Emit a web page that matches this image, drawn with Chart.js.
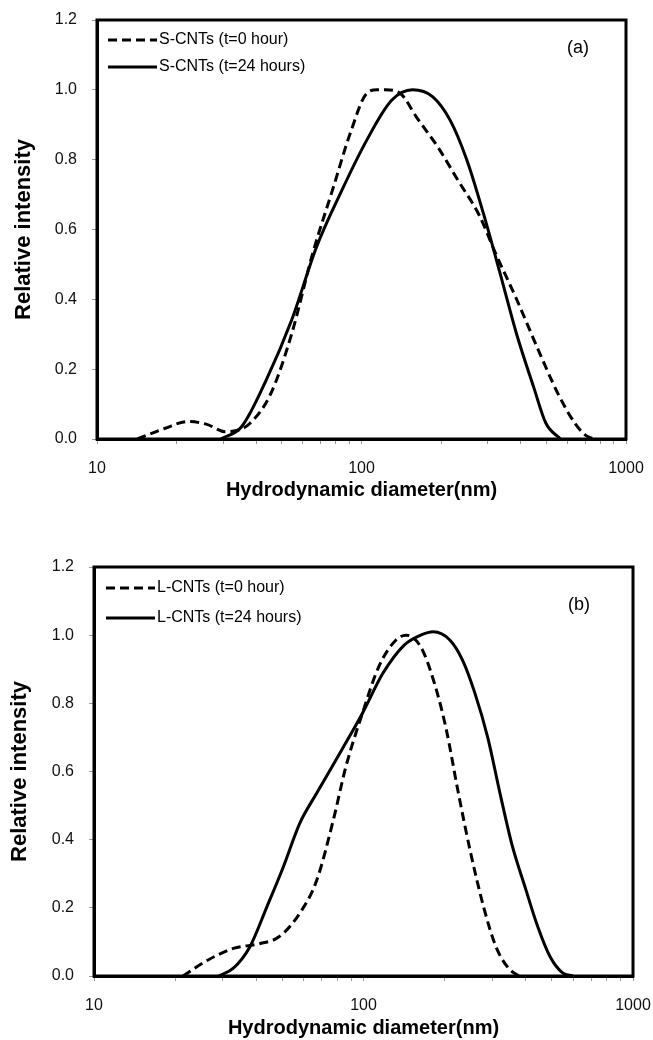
<!DOCTYPE html>
<html>
<head>
<meta charset="utf-8">
<script src="https://cdn.jsdelivr.net/npm/chart.js@4/dist/chart.umd.min.js"></script>
<style>
  body { margin: 0; background: #fff; }
  canvas { display: block; }
</style>
</head>
<body>
<canvas id="chartA" width="653" height="520"></canvas>
<canvas id="chartB" width="653" height="520"></canvas>
<script>
// x axis ticks (log scale) and which of them get a label
const xTickValues = [10, 20, 30, 40, 50, 60, 70, 80, 90, 100, 200, 300, 400, 500, 600, 700, 800, 900, 1000];
const xTickLabels = [10, 100, 1000];
const yTickLabels = ['0.0', '0.2', '0.4', '0.6', '0.8', '1.0', '1.2'];

// (a) S-CNTs, t = 0 hour
const sDiam0 = [14.2, 18, 22, 26, 30.5, 34, 37.9, 45.4, 54.4, 65.3, 78.2, 90.6, 104.7, 115, 123, 140, 162, 194, 232, 279, 322, 386, 463, 553, 641, 700, 755];
const sInt0  = [0, 0.03, 0.05, 0.042, 0.021, 0.025, 0.045, 0.13, 0.30, 0.53, 0.72, 0.875, 0.99, 1.0, 1.0, 0.99, 0.92, 0.837, 0.74, 0.64, 0.53, 0.40, 0.26, 0.13, 0.045, 0.012, 0];
// (a) S-CNTs, t = 24 hours
const sDiam24 = [29.4, 35.2, 43.7, 54.4, 67.6, 84, 104.7, 130, 156, 186, 216, 250, 289, 334, 386, 447, 498, 565];
const sInt24  = [0, 0.035, 0.17, 0.34, 0.55, 0.71, 0.856, 0.97, 1.0, 0.98, 0.914, 0.80, 0.646, 0.475, 0.30, 0.15, 0.045, 0];

// (b) L-CNTs, t = 0 hour
const lDiam0 = [21.4, 26.5, 32.9, 40.7, 48.6, 58, 67, 77.3, 86, 99, 114, 132, 144, 163, 181.5, 202, 225, 250, 279, 310, 345, 377];
const lInt0  = [0, 0.047, 0.081, 0.094, 0.115, 0.184, 0.28, 0.458, 0.614, 0.77, 0.908, 0.986, 1.0, 0.966, 0.87, 0.73, 0.536, 0.36, 0.203, 0.086, 0.023, 0];
// (b) L-CNTs, t = 24 hours
const lDiam24 = [29, 32.9, 37.9, 43.8, 50.4, 58, 67, 83, 99, 118, 141.6, 163, 181.5, 209, 233, 259, 289, 321, 357, 398, 443, 492, 548, 598];
const lInt24  = [0, 0.023, 0.086, 0.203, 0.32, 0.448, 0.536, 0.663, 0.77, 0.888, 0.971, 1.0, 1.01, 0.986, 0.927, 0.83, 0.70, 0.536, 0.38, 0.26, 0.145, 0.057, 0.009, 0];

const FONT = '"Liberation Sans", Arial, sans-serif';

function pairs(xs, ys) {
  return xs.map((x, i) => ({ x: x, y: ys[i] }));
}

// frame + in-plot legend + panel letter
const framePlugin = {
  id: 'frame',
  afterDraw(chart, args, opts) {
    const ctx = chart.ctx;
    const a = chart.chartArea;
    ctx.save();
    ctx.strokeStyle = '#000';
    ctx.lineWidth = 3;
    ctx.setLineDash([]);
    ctx.strokeRect(a.left, a.top, a.right - a.left, a.bottom - a.top);

    ctx.font = '16px ' + FONT;
    ctx.fillStyle = '#000';
    ctx.textBaseline = 'middle';
    chart.data.datasets.forEach((ds, i) => {
      const y = a.top + opts.legendTop + i * opts.legendGap;
      const x0 = a.left + opts.legendLeft;
      ctx.beginPath();
      ctx.setLineDash(ds.borderDash || []);
      ctx.lineWidth = 3;
      ctx.moveTo(x0, y);
      ctx.lineTo(x0 + 49, y);
      ctx.stroke();
      ctx.setLineDash([]);
      ctx.textAlign = 'left';
      ctx.fillText(ds.label, x0 + 51, y);
    });

    ctx.font = '18px ' + FONT;
    ctx.textAlign = 'center';
    ctx.fillText(opts.panel, opts.panelX, opts.panelY);
    ctx.restore();
  }
};

function makeChart(id, sets, lay) {
  const canvas = document.getElementById(id);
  return new Chart(canvas.getContext('2d'), {
    type: 'line',
    data: {
      datasets: sets.map(s => ({
        label: s.label,
        data: s.data,
        borderColor: '#000',
        borderWidth: 3,
        borderDash: s.dash,
        pointRadius: 0,
        fill: false,
        cubicInterpolationMode: 'monotone'
      }))
    },
    plugins: [framePlugin],
    options: {
      responsive: false,
      animation: false,
      layout: { padding: { left: 0, right: lay.right, top: lay.top, bottom: 0 } },
      scales: {
        x: {
          type: 'logarithmic',
          min: 10,
          max: 1000,
          afterBuildTicks: scale => {
            scale.ticks = xTickValues.map(v => ({ value: v }));
          },
          afterFit: scale => {
            scale.height = lay.xHeight;
            scale.paddingLeft = 0;
            scale.paddingRight = 0;
          },
          grid: { drawOnChartArea: false, drawTicks: true, tickLength: 5, tickColor: '#999', tickWidth: 1 },
          border: { display: true, color: '#000', width: 3 },
          ticks: {
            autoSkip: false,
            maxRotation: 0,
            padding: 15,
            color: '#111',
            font: { family: FONT, size: 16 },
            callback: v => xTickLabels.includes(v) ? String(v) : ''
          },
          title: {
            display: true,
            text: 'Hydrodynamic diameter(nm)',
            color: '#000',
            font: { family: FONT, size: 20, weight: 'bold', lineHeight: 1.2 },
            padding: { top: 0, bottom: lay.xTitlePad }
          }
        },
        y: {
          min: 0,
          max: 1.2,
          afterFit: scale => {
            scale.width = lay.yWidth;
            scale.paddingTop = 0;
            scale.paddingBottom = 0;
          },
          grid: { drawOnChartArea: false, drawTicks: true, tickLength: 5, tickColor: '#999', tickWidth: 1 },
          border: { display: true, color: '#000', width: 3 },
          ticks: {
            stepSize: 0.2,
            padding: 15,
            color: '#111',
            font: { family: FONT, size: 16 },
            callback: (v, i) => yTickLabels[i]
          },
          title: {
            display: true,
            text: 'Relative intensity',
            color: '#000',
            font: { family: FONT, size: 22, weight: 'bold', lineHeight: 1.2 },
            padding: { top: lay.yTitlePad, bottom: 0 }
          }
        }
      },
      plugins: {
        legend: { display: false },
        tooltip: { enabled: false },
        frame: lay.frame
      }
    }
  });
}

makeChart('chartA', [
  { label: 'S-CNTs (t=0 hour)', data: pairs(sDiam0, sInt0), dash: [9, 5] },
  { label: 'S-CNTs (t=24 hours)', data: pairs(sDiam24, sInt24), dash: [] }
], {
  right: 27, top: 20, xHeight: 81, yWidth: 97, xTitlePad: 18, yTitlePad: 11,
  frame: { legendTop: 20, legendLeft: 11, legendGap: 27, panel: '(a)', panelX: 578, panelY: 48 }
});

makeChart('chartB', [
  { label: 'L-CNTs (t=0 hour)', data: pairs(lDiam0, lInt0), dash: [9, 5] },
  { label: 'L-CNTs (t=24 hours)', data: pairs(lDiam24, lInt24), dash: [] }
], {
  right: 20, top: 47, xHeight: 64, yWidth: 94, xTitlePad: 0, yTitlePad: 7,
  frame: { legendTop: 21, legendLeft: 12, legendGap: 30, panel: '(b)', panelX: 579, panelY: 85 }
});
</script>
</body>
</html>
